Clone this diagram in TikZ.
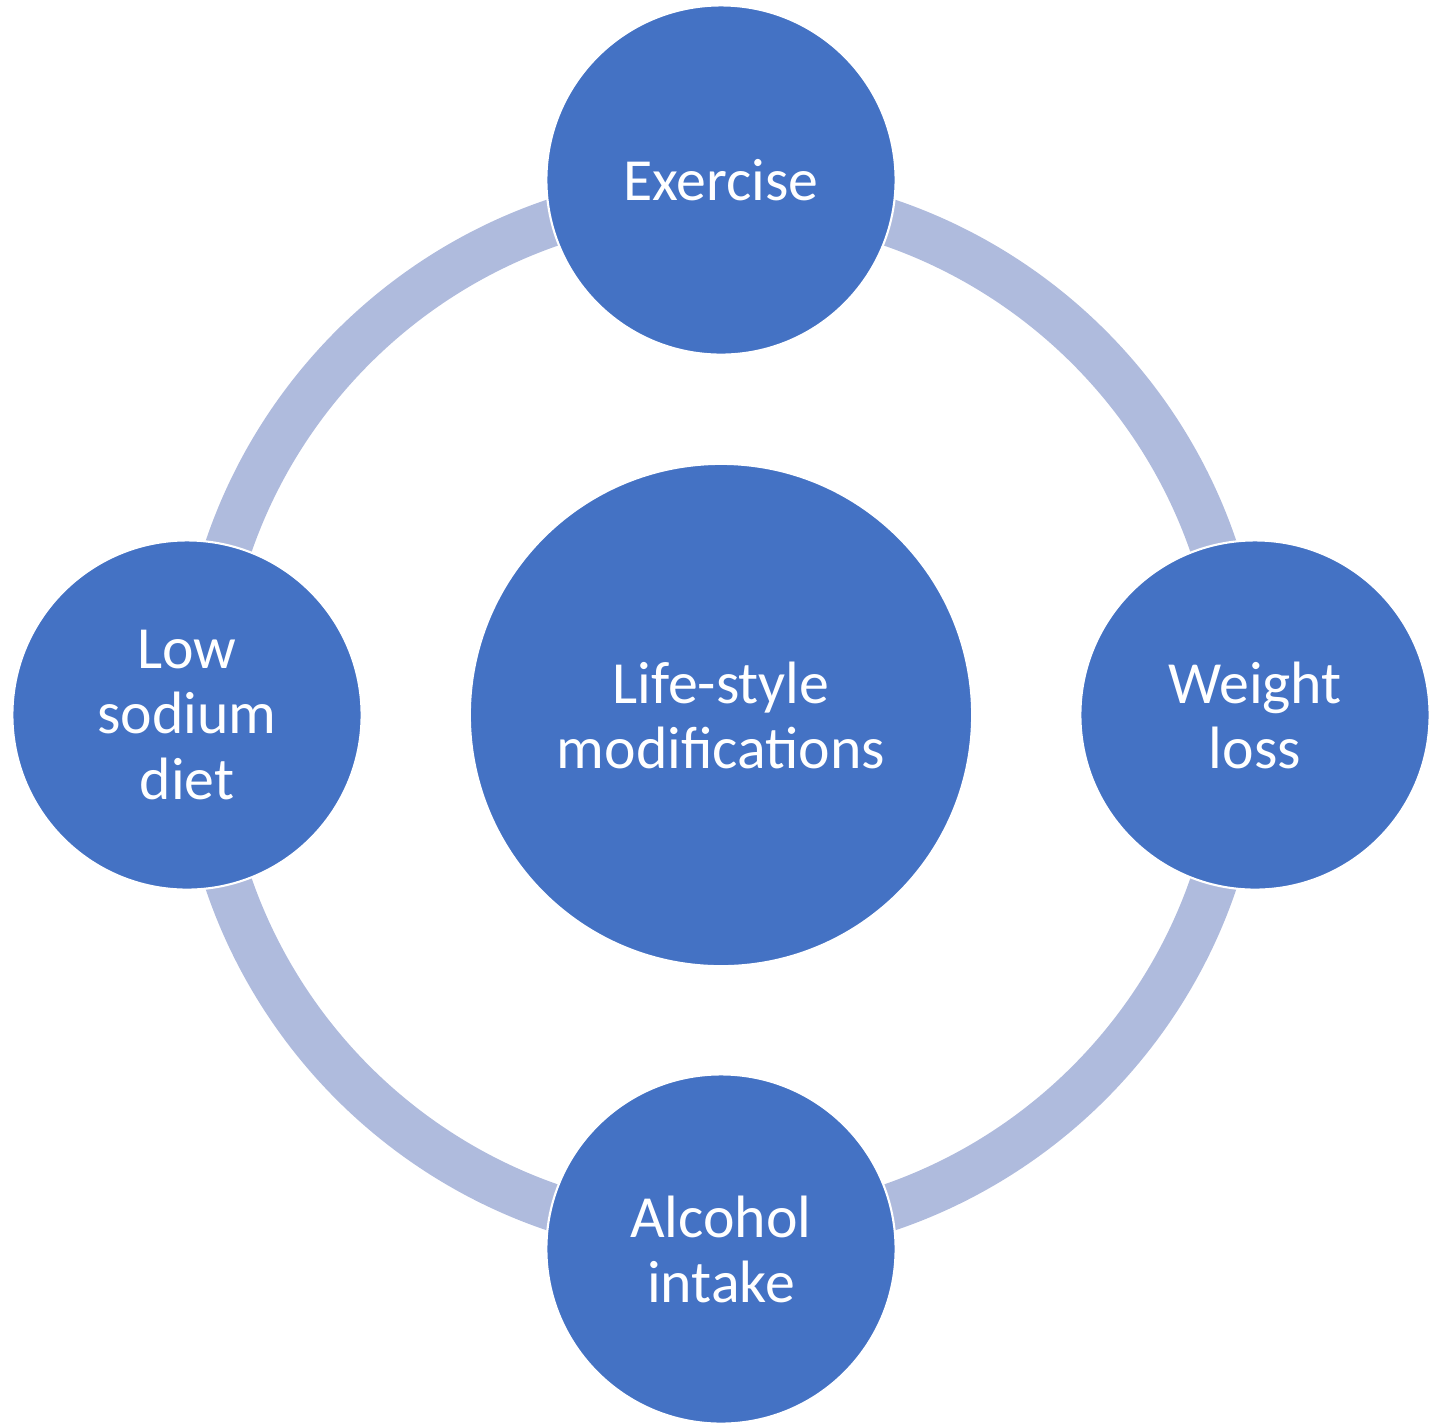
\documentclass[tikz,border=0pt]{standalone}
\usepackage{fontspec}
\setmainfont{Carlito}
\usetikzlibrary{backgrounds}
\definecolor{bubble}{HTML}{4472C4}
\definecolor{ringcol}{HTML}{AFBBDD}

\begin{document}
\begin{tikzpicture}[x=0.01cm,y=-0.01cm,
        item/.style={circle,fill=bubble,draw=white,line width=0.6pt,inner sep=0pt,
            minimum size=3.49cm,text=white,align=center,font=\fontsize{17}{18.5}\selectfont},
        hub/.style={item,minimum size=5.02cm}]
            \useasboundingbox (0,0) rectangle (1435,1426);
            \node[hub] (life) at (721,715) {Life-style\\modifications};
            \node[item] (exercise) at (721,180) {Exercise};
            \node[item] (weight) at (1255,715) {Weight\\loss};
            \node[item] (alcohol) at (721,1249) {Alcohol\\intake};
            \node[item] (sodium) at (187,715) {Low\\sodium\\diet};
            \begin{scope}[on background layer]
                \draw[ringcol,line width=0.47cm] (life.center) circle[radius=5.2cm];
            \end{scope}
        \end{tikzpicture}
\end{document}
